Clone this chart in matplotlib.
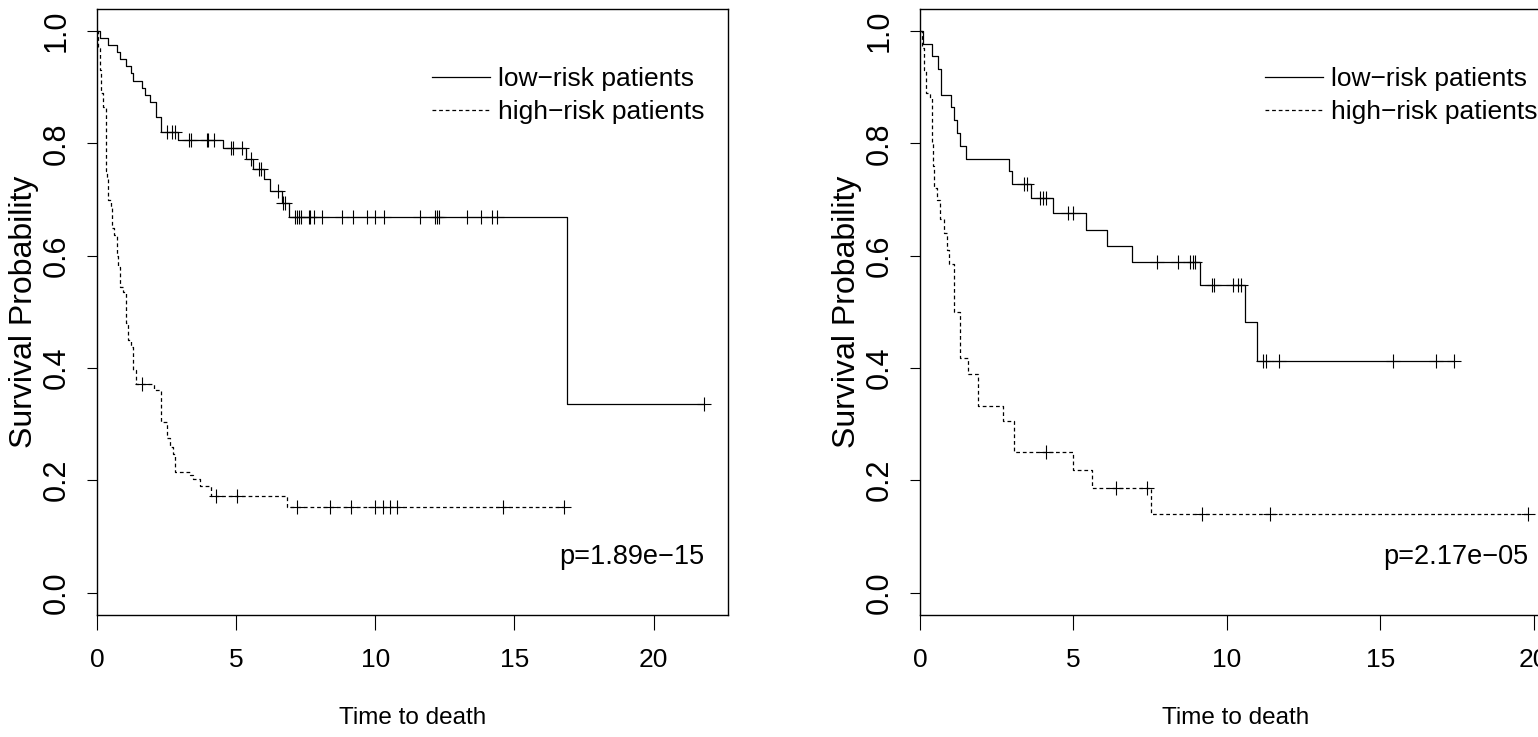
import matplotlib
matplotlib.use("Agg")
import matplotlib.pyplot as plt
from matplotlib.lines import Line2D
import numpy as np

# Kaplan-Meier steps: event times and survival after each step,
# plus censoring times (drawn as "+")
left_low_time = [0.11, 0.41, 0.73, 0.83, 1.03, 1.22, 1.30, 1.63, 1.72, 1.91, 2.11, 2.31,
                 2.92, 4.51, 5.37, 5.61, 6.00, 6.21, 6.66, 6.90, 16.89]
left_low_surv = [0.988, 0.975, 0.963, 0.950, 0.938, 0.925, 0.911, 0.899, 0.886, 0.873, 0.847,
                 0.820, 0.806, 0.791, 0.773, 0.755, 0.736, 0.715, 0.694, 0.669, 0.335]
left_low_cens = [2.51, 2.68, 2.80, 3.30, 3.37, 3.94, 4.00, 4.20, 4.80, 4.87, 5.22, 5.53, 5.81,
                 5.91, 6.51, 6.69, 6.77, 7.11, 7.17, 7.25, 7.32, 7.61, 7.67, 7.79, 8.10, 8.81,
                 9.20, 9.70, 9.98, 10.30, 11.59, 12.13, 12.21, 12.29, 13.29, 13.81, 14.20,
                 14.37, 21.80]

left_high_time = [0.04, 0.10, 0.14, 0.20, 0.31, 0.34, 0.37, 0.41, 0.49, 0.55, 0.62, 0.71,
                  0.75, 0.83, 0.94, 1.03, 1.12, 1.22, 1.30, 1.39, 2.05, 2.30, 2.50, 2.62,
                  2.74, 2.80, 3.34, 3.46, 3.70, 4.10, 6.82]
left_high_surv = [0.970, 0.930, 0.890, 0.865, 0.800, 0.750, 0.737, 0.700, 0.687, 0.650,
                  0.636, 0.600, 0.580, 0.545, 0.535, 0.480, 0.450, 0.437, 0.396, 0.372,
                  0.360, 0.304, 0.275, 0.259, 0.247, 0.215, 0.209, 0.203, 0.190, 0.172,
                  0.152]
left_high_cens = [1.60, 4.27, 5.03, 7.18, 8.36, 9.12, 10.00, 10.27, 10.52, 10.77, 14.59, 16.77]

right_low_time = [0.09, 0.39, 0.60, 0.69, 1.00, 1.10, 1.21, 1.30, 1.50, 2.89, 2.99, 3.62,
                  4.32, 5.41, 6.10, 6.92, 9.13, 10.60, 11.00]
right_low_surv = [0.977, 0.955, 0.932, 0.886, 0.864, 0.841, 0.818, 0.796, 0.773, 0.750,
                  0.727, 0.703, 0.676, 0.646, 0.617, 0.588, 0.548, 0.481, 0.412]
right_low_cens = [3.38, 3.48, 3.91, 4.00, 4.10, 4.83, 5.00, 7.71, 8.41, 8.81, 8.89, 8.98,
                  9.51, 9.59, 10.20, 10.36, 10.47, 11.19, 11.27, 11.70, 15.41, 16.81, 17.41]

right_high_time = [0.05, 0.12, 0.20, 0.33, 0.38, 0.42, 0.45, 0.55, 0.65, 0.78, 0.88, 0.95,
                   1.12, 1.30, 1.58, 1.90, 2.72, 3.08, 5.00, 5.62, 7.52]
right_high_surv = [0.970, 0.930, 0.890, 0.880, 0.800, 0.760, 0.720, 0.700, 0.666, 0.640,
                   0.610, 0.585, 0.500, 0.417, 0.390, 0.333, 0.305, 0.250, 0.219, 0.187,
                   0.140]
right_high_cens = [4.11, 6.39, 7.41, 9.20, 11.41, 19.81]

p_values = ["p=1.89e\u221215", "p=2.17e\u221205"]
group_labels = ["low\u2212risk patients", "high\u2212risk patients"]
x_ticks = [0, 5, 10, 15, 20]
y_ticks = [0.0, 0.2, 0.4, 0.6, 0.8, 1.0]

fonts = ['Liberation Sans', 'DejaVu Sans']
plt.rcParams['font.family'] = fonts
DASH = (3, 2.3)


def km_curve(ax, times, surv, cens, dashed):
    last = max(max(times), max(cens))
    t = np.concatenate([[0.0], times, [last]])
    s = np.concatenate([[1.0], surv, [surv[-1]]])
    line, = ax.step(t, s, where='post', color='black', lw=0.9)
    if dashed:
        line.set_dashes(DASH)
    idx = np.searchsorted(times, cens, side='right')
    cs = np.concatenate([[1.0], surv])[idx]
    ax.plot(cens, cs, linestyle='none', marker='+', color='black',
            markersize=10, markeredgewidth=0.8)


def style_axes(ax, xmax, pval):
    ax.set_xlim(0, xmax * 1.04)
    ax.set_ylim(-0.04, 1.04)
    ax.set_xticks(x_ticks)
    ax.set_xticklabels([str(v) for v in x_ticks], fontsize=19)
    ax.set_yticks(y_ticks)
    ax.set_yticklabels([f"{v:.1f}" for v in y_ticks], fontsize=22,
                       rotation=90, va='center')
    ax.tick_params(axis='x', length=11, width=0.8, pad=13)
    ax.tick_params(axis='y', length=7, width=0.8, pad=11)
    for sp in ax.spines.values():
        sp.set_linewidth(1.0)
    ax.set_xlabel("Time to death", fontsize=17.5)
    ax.xaxis.label.set_va('center')
    ax.xaxis.set_label_coords(0.5, -0.17)
    ax.set_ylabel("Survival Probability", fontsize=23)
    ax.yaxis.label.set_va('center')
    ax.yaxis.set_label_coords(-0.116, 0.5)
    ax.text(0.962, 0.096, pval, transform=ax.transAxes, ha='right', va='center',
            fontsize=19.5)


fig = plt.figure(figsize=(15.38, 7.37), dpi=100)
ax1 = fig.add_axes([97 / 1538, 122 / 737, 631 / 1538, 606.4 / 737])
ax2 = fig.add_axes([920 / 1538, 122 / 737, 632 / 1538, 606.4 / 737])

km_curve(ax1, left_low_time, left_low_surv, left_low_cens, False)
km_curve(ax1, left_high_time, left_high_surv, left_high_cens, True)
style_axes(ax1, max(left_low_cens), p_values[0])

km_curve(ax2, right_low_time, right_low_surv, right_low_cens, False)
km_curve(ax2, right_high_time, right_high_surv, right_high_cens, True)
style_axes(ax2, max(right_high_cens), p_values[1])

handles = [Line2D([], [], color='black', lw=0.9),
           Line2D([], [], color='black', lw=0.9, dashes=DASH)]
for ax, x0 in [(ax1, 0.531), (ax2, 0.546)]:
    ax.legend(handles, group_labels, loc='upper left', bbox_to_anchor=(x0, 0.903),
              frameon=False, borderaxespad=0, borderpad=0, handlelength=2.2,
              handletextpad=0.3, labelspacing=0.33, prop={'size': 19})

fig.savefig("out.png", dpi=100)
